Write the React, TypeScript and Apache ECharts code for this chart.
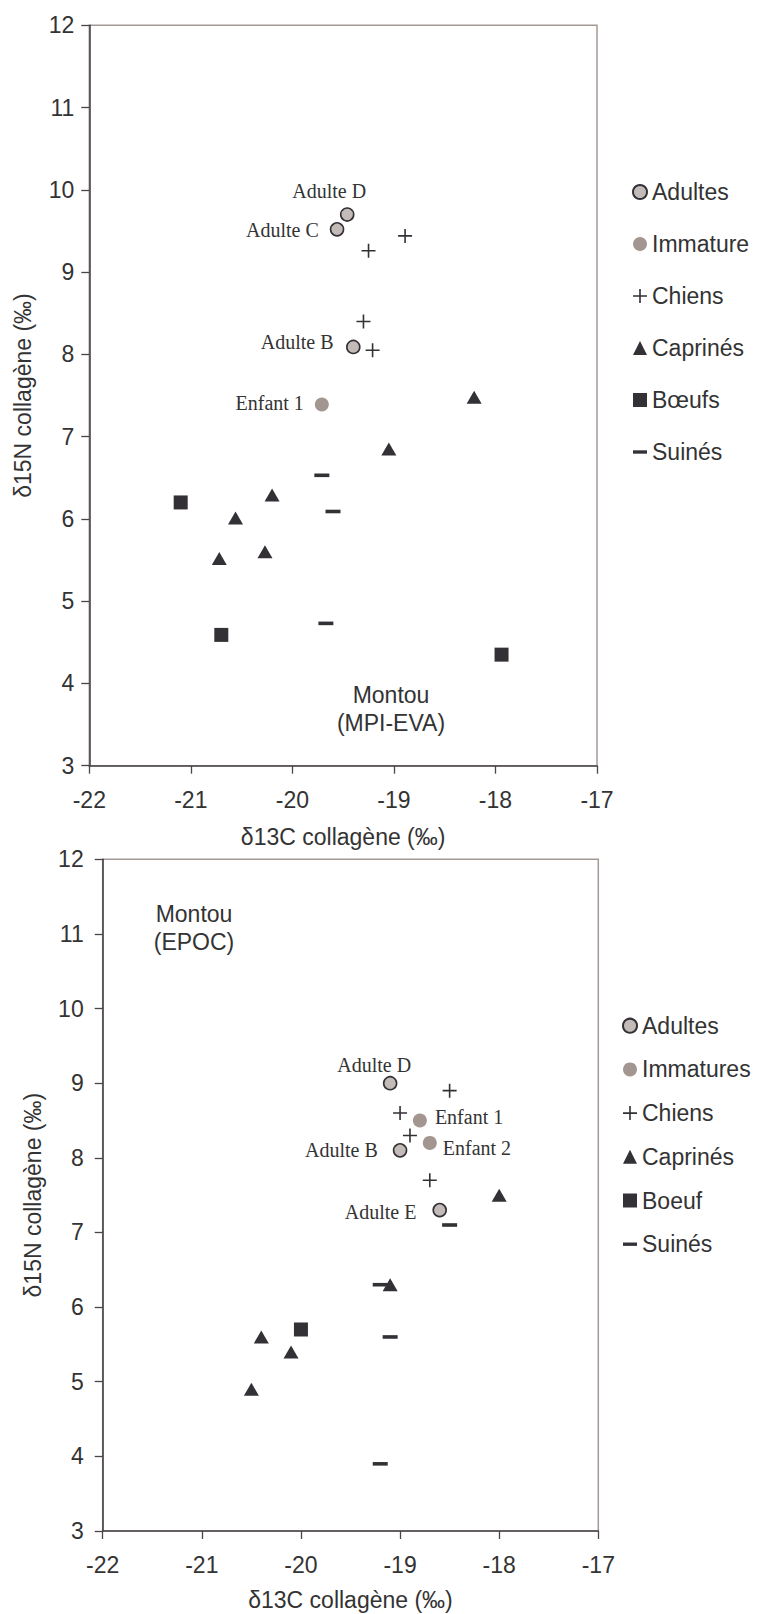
import React, { useEffect, useRef } from "react";
import * as echarts from "echarts";

// ---------- Data (top chart: Montou MPI-EVA) ----------
const topAdultesNames = ["Adulte D", "Adulte C", "Adulte B"];
const topAdultesX = [-19.46, -19.56, -19.4];
const topAdultesY = [9.7, 9.52, 8.09];
const topImmatureNames = ["Enfant 1"];
const topImmatureX = [-19.71];
const topImmatureY = [7.39];
const topChiens = [
  [-18.89, 9.44],
  [-19.25, 9.26],
  [-19.3, 8.4],
  [-19.21, 8.05],
];
const topCaprines = [
  [-18.21, 7.48],
  [-19.05, 6.85],
  [-20.2, 6.29],
  [-20.56, 6.01],
  [-20.27, 5.6],
  [-20.72, 5.52],
];
const topBoeufs = [
  [-21.1, 6.2],
  [-20.7, 4.59],
  [-17.94, 4.35],
];
const topSuines = [
  [-19.71, 6.53],
  [-19.6, 6.09],
  [-19.67, 4.73],
];

// ---------- Data (bottom chart: Montou EPOC) ----------
const botAdultesNames = ["Adulte D", "Adulte B", "Adulte E"];
const botAdultesX = [-19.1, -19.0, -18.6];
const botAdultesY = [9.0, 8.1, 7.3];
const botImmaturesNames = ["Enfant 1", "Enfant 2"];
const botImmaturesX = [-18.8, -18.7];
const botImmaturesY = [8.5, 8.2];
const botChiens = [
  [-18.5, 8.9],
  [-19.0, 8.6],
  [-18.9, 8.3],
  [-18.7, 7.7],
];
const botCaprines = [
  [-18.0, 7.5],
  [-19.1, 6.3],
  [-20.4, 5.6],
  [-20.1, 5.4],
  [-20.5, 4.9],
];
const botBoeuf = [[-20.0, 5.7]];
const botSuines = [
  [-18.5, 7.1],
  [-19.2, 6.3],
  [-19.1, 5.6],
  [-19.2, 3.9],
];

const topLegend = ["Adultes", "Immature", "Chiens", "Caprinés", "Bœufs", "Suinés"];
const botLegend = ["Adultes", "Immatures", "Chiens", "Caprinés", "Boeuf", "Suinés"];
const xTitle = "δ13C collagène (‰)";
const yTitle = "δ15N collagène (‰)";
const topNote = "Montou\n(MPI-EVA)";
const botNote = "Montou\n(EPOC)";

// ---------- Label placement (style only) ----------
const labelPlacement: Record<string, { position: string; offset: number[] }> = {
  "top:Adulte D": { position: "top", offset: [-18, -6] },
  "top:Adulte C": { position: "left", offset: [-11, 1] },
  "top:Adulte B": { position: "left", offset: [-12.5, -5] },
  "top:Enfant 1": { position: "left", offset: [-11, -2] },
  "bot:Adulte D": { position: "top", offset: [-16, -1] },
  "bot:Adulte B": { position: "left", offset: [-15, 0] },
  "bot:Adulte E": { position: "left", offset: [-16, 2] },
  "bot:Enfant 1": { position: "right", offset: [8, -4] },
  "bot:Enfant 2": { position: "right", offset: [6, 5] },
};

const SANS = "'Liberation Sans', Arial, Helvetica, sans-serif";
const SERIF = "'Liberation Serif', 'Times New Roman', serif";
const FS = 23;
const TEXT = "#333333";
const AXIS = "#4a4548";
const BORDER = "#a39994";
const DARK = "#333036";
const ADULT_FILL = "#c3bbb8";
const CHILD_FILL = "#a3958f";

const PLUS = "path://M6.2,0H7.8V14H6.2Z M0,6.2H14V7.8H0Z";
const DASH = "path://M0,0M15,15M0,5.7H15V9.3H0Z";

function namedPoints(prefix: string, names: string[], xs: number[], ys: number[]) {
  return names.map((n, i) => {
    const p = labelPlacement[prefix + ":" + n];
    return {
      name: n,
      value: [xs[i], ys[i]],
      label: { show: true, position: p.position, distance: 0, offset: p.offset },
    };
  });
}

const labelStyle = {
  show: true,
  formatter: "{b}",
  fontFamily: SERIF,
  fontSize: 20,
  color: TEXT,
};

function seriesFor(idx: number, names: string[], sets: any[]) {
  const [adultes, immat, chiens, caprines, boeufs, suines] = sets;
  return [
    {
      type: "scatter",
      name: names[0],
      xAxisIndex: idx,
      yAxisIndex: idx,
      symbol: "circle",
      symbolSize: 13,
      itemStyle: { color: ADULT_FILL, borderColor: DARK, borderWidth: 1.6, opacity: 1 },
      label: labelStyle,
      data: adultes,
      z: 3,
    },
    {
      type: "scatter",
      name: names[1],
      xAxisIndex: idx,
      yAxisIndex: idx,
      symbol: "circle",
      symbolSize: 14,
      itemStyle: { color: CHILD_FILL, opacity: 1 },
      label: labelStyle,
      data: immat,
      z: 3,
    },
    {
      type: "scatter",
      name: names[2],
      xAxisIndex: idx,
      yAxisIndex: idx,
      symbol: PLUS,
      symbolSize: 14,
      itemStyle: { color: DARK, opacity: 1 },
      data: chiens,
    },
    {
      type: "scatter",
      name: names[3],
      xAxisIndex: idx,
      yAxisIndex: idx,
      symbol: "triangle",
      symbolSize: [15, 13],
      itemStyle: { color: DARK, opacity: 1 },
      data: caprines,
    },
    {
      type: "scatter",
      name: names[4],
      xAxisIndex: idx,
      yAxisIndex: idx,
      symbol: "rect",
      symbolSize: 14,
      itemStyle: { color: DARK, opacity: 1 },
      data: boeufs,
    },
    {
      type: "scatter",
      name: names[5],
      xAxisIndex: idx,
      yAxisIndex: idx,
      symbol: DASH,
      symbolSize: 15,
      itemStyle: { color: DARK, opacity: 1 },
      data: suines,
    },
  ];
}

function xAxisFor(gridIndex: number, margin: number, nameGap: number) {
  return {
    type: "value",
    gridIndex,
    min: -22,
    max: -17,
    interval: 1,
    name: xTitle,
    nameLocation: "middle",
    nameGap,
    nameTextStyle: { fontSize: FS, color: TEXT, fontFamily: SANS },
    axisLine: { show: true, onZero: false, lineStyle: { color: AXIS, width: 1.6 } },
    axisTick: { show: true, length: 8, lineStyle: { color: AXIS, width: 1.3 } },
    axisLabel: { fontSize: FS, color: TEXT, margin, fontFamily: SANS },
    splitLine: { show: false },
  };
}

function yAxisFor(gridIndex: number, margin: number, nameGap: number) {
  return {
    type: "value",
    gridIndex,
    min: 3,
    max: 12,
    interval: 1,
    name: yTitle,
    nameLocation: "middle",
    nameGap,
    nameTextStyle: { fontSize: FS, color: TEXT, fontFamily: SANS },
    axisLine: { show: true, onZero: false, lineStyle: { color: AXIS, width: 1.6 } },
    axisTick: { show: true, length: 8, lineStyle: { color: AXIS, width: 1.3 } },
    axisLabel: { fontSize: FS, color: TEXT, margin, fontFamily: SANS },
    splitLine: { show: false },
  };
}

function legendFor(names: string[], left: number, top: number, gap: number) {
  return {
    orient: "vertical",
    left,
    top,
    padding: 0,
    itemWidth: 14,
    itemHeight: 14,
    itemGap: gap,
    selectedMode: false,
    textStyle: { fontSize: FS, color: TEXT, fontFamily: SANS, lineHeight: 26 },
    data: names,
  };
}

export default function App() {
  const ref = useRef<HTMLDivElement>(null);

  useEffect(() => {
    if (!ref.current) return;
    const chart = echarts.init(ref.current, undefined, { renderer: "svg" });

    const topSets = [
      namedPoints("top", topAdultesNames, topAdultesX, topAdultesY),
      namedPoints("top", topImmatureNames, topImmatureX, topImmatureY),
      topChiens,
      topCaprines,
      topBoeufs,
      topSuines,
    ];
    const botSets = [
      namedPoints("bot", botAdultesNames, botAdultesX, botAdultesY),
      namedPoints("bot", botImmaturesNames, botImmaturesX, botImmaturesY),
      botChiens,
      botCaprines,
      botBoeuf,
      botSuines,
    ];

    chart.setOption({
      animation: false,
      backgroundColor: "#ffffff",
      grid: [
        {
          left: 89.3,
          top: 25.3,
          width: 507.7,
          height: 740.4,
          show: true,
          borderColor: BORDER,
          borderWidth: 1.5,
          backgroundColor: "transparent",
        },
        {
          left: 102.7,
          top: 859.3,
          width: 495.6,
          height: 671.7,
          show: true,
          borderColor: BORDER,
          borderWidth: 1.5,
          backgroundColor: "transparent",
        },
      ],
      xAxis: [xAxisFor(0, 23, 60), xAxisFor(1, 22, 57)],
      yAxis: [yAxisFor(0, 15, 55), yAxisFor(1, 19, 58)],
      legend: [legendFor(topLegend, 632, 179, 26), legendFor(botLegend, 622, 1012.7, 17.7)],
      graphic: [
        {
          type: "text",
          x: 391,
          y: 709,
          style: {
            text: topNote,
            fontSize: FS,
            fontFamily: SANS,
            fill: TEXT,
            align: "center",
            verticalAlign: "middle",
            lineHeight: 28,
          },
        },
        {
          type: "text",
          x: 194,
          y: 928,
          style: {
            text: botNote,
            fontSize: FS,
            fontFamily: SANS,
            fill: TEXT,
            align: "center",
            verticalAlign: "middle",
            lineHeight: 28,
          },
        },
      ],
      series: [...seriesFor(0, topLegend, topSets), ...seriesFor(1, botLegend, botSets)],
    });

    return () => {
      chart.dispose();
    };
  }, []);

  return (
    <div
      ref={ref}
      style={{ position: "absolute", left: 0, top: 0, width: 760, height: 1614 }}
    />
  );
}
